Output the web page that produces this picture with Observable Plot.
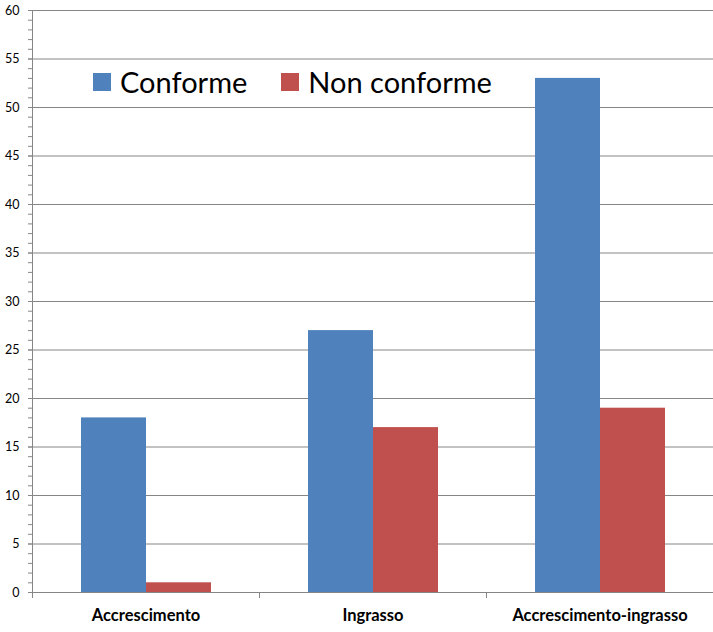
<!DOCTYPE html>
<html>
<head>
<meta charset="utf-8">
<script src="https://cdn.jsdelivr.net/npm/d3@7"></script>
<script src="https://cdn.jsdelivr.net/npm/@observablehq/plot@0.6"></script>
<style>
  html, body { margin: 0; padding: 0; background: #fff; }
  #wrap { position: relative; width: 713px; height: 632px; font-family: Lato, "Open Sans", sans-serif; }
  #legend { position: absolute; left: 93px; top: 64px; display: flex; gap: 34px; align-items: center; }
  .sw { display: flex; align-items: center; font-size: 29px; color: #000; }
  .sw i { display: inline-block; width: 18px; height: 18px; margin-right: 9px; }
</style>
</head>
<body>
<div id="wrap"></div>
<script>
const categories = ["Accrescimento", "Ingrasso", "Accrescimento-ingrasso"];
const series = ["Conforme", "Non conforme"];
const conforme = [18, 27, 53];
const nonConforme = [1, 17, 19];
const colors = ["#4F81BD", "#C0504D"];
const yMajorTicks = d3.range(0, 61, 5);
const yMinorTicks = d3.range(0, 61, 1);

const data = categories.flatMap((c, i) => [
  {category: c, series: series[0], value: conforme[i]},
  {category: c, series: series[1], value: nonConforme[i]}
]);

const plot = Plot.plot({
  width: 713,
  height: 632,
  marginLeft: 31,
  marginRight: 0,
  marginTop: 10,
  marginBottom: 40,
  style: {fontFamily: "Lato, 'Open Sans', sans-serif", background: "#fff"},
  fx: {domain: categories, padding: 0, label: null},
  x: {domain: series, paddingInner: 0, paddingOuter: 0.74, axis: null},
  y: {domain: [0, 60], label: null},
  color: {domain: series, range: colors},
  marks: [
    Plot.ruleY(yMajorTicks, {y: d => d, stroke: "#868686", strokeWidth: 1}),
    Plot.barY(data, {fx: "category", x: "series", y: "value", fill: "series"}),
    Plot.axisY({ticks: yMinorTicks, tickSize: 4, tickFormat: () => "", stroke: "#868686"}),
    Plot.axisY({ticks: yMajorTicks, tickSize: 4, tickPadding: 9, stroke: "#868686", fontSize: 12.5, color: "#000"}),
    Plot.axisFx({anchor: "bottom", tickSize: 0, tickPadding: 17, fontSize: 16.5, fontWeight: "bold", color: "#000", label: null})
  ]
});

// axis line and category boundary ticks positioned through the plot's scales
const fx = plot.scale("fx");
const y = plot.scale("y");
const svg = d3.select(plot.tagName === "svg" ? plot : plot.querySelector("svg"));
const x0 = fx.apply(categories[0]) + 0.5;
svg.append("line")
  .attr("x1", x0).attr("x2", x0)
  .attr("y1", y.apply(60)).attr("y2", y.apply(0))
  .attr("stroke", "#868686");
categories.forEach(c => {
  const bx = Math.round(fx.apply(c)) + 0.5;
  svg.append("line")
    .attr("x1", bx).attr("x2", bx)
    .attr("y1", y.apply(0)).attr("y2", y.apply(0) + 6)
    .attr("stroke", "#868686");
});

const wrap = document.getElementById("wrap");
wrap.appendChild(plot);

const legend = document.createElement("div");
legend.id = "legend";
series.forEach((s, i) => {
  const d = document.createElement("div");
  d.className = "sw";
  d.innerHTML = `<i style="background:${colors[i]}"></i><span>${s}</span>`;
  legend.appendChild(d);
});
wrap.appendChild(legend);
</script>
</body>
</html>
